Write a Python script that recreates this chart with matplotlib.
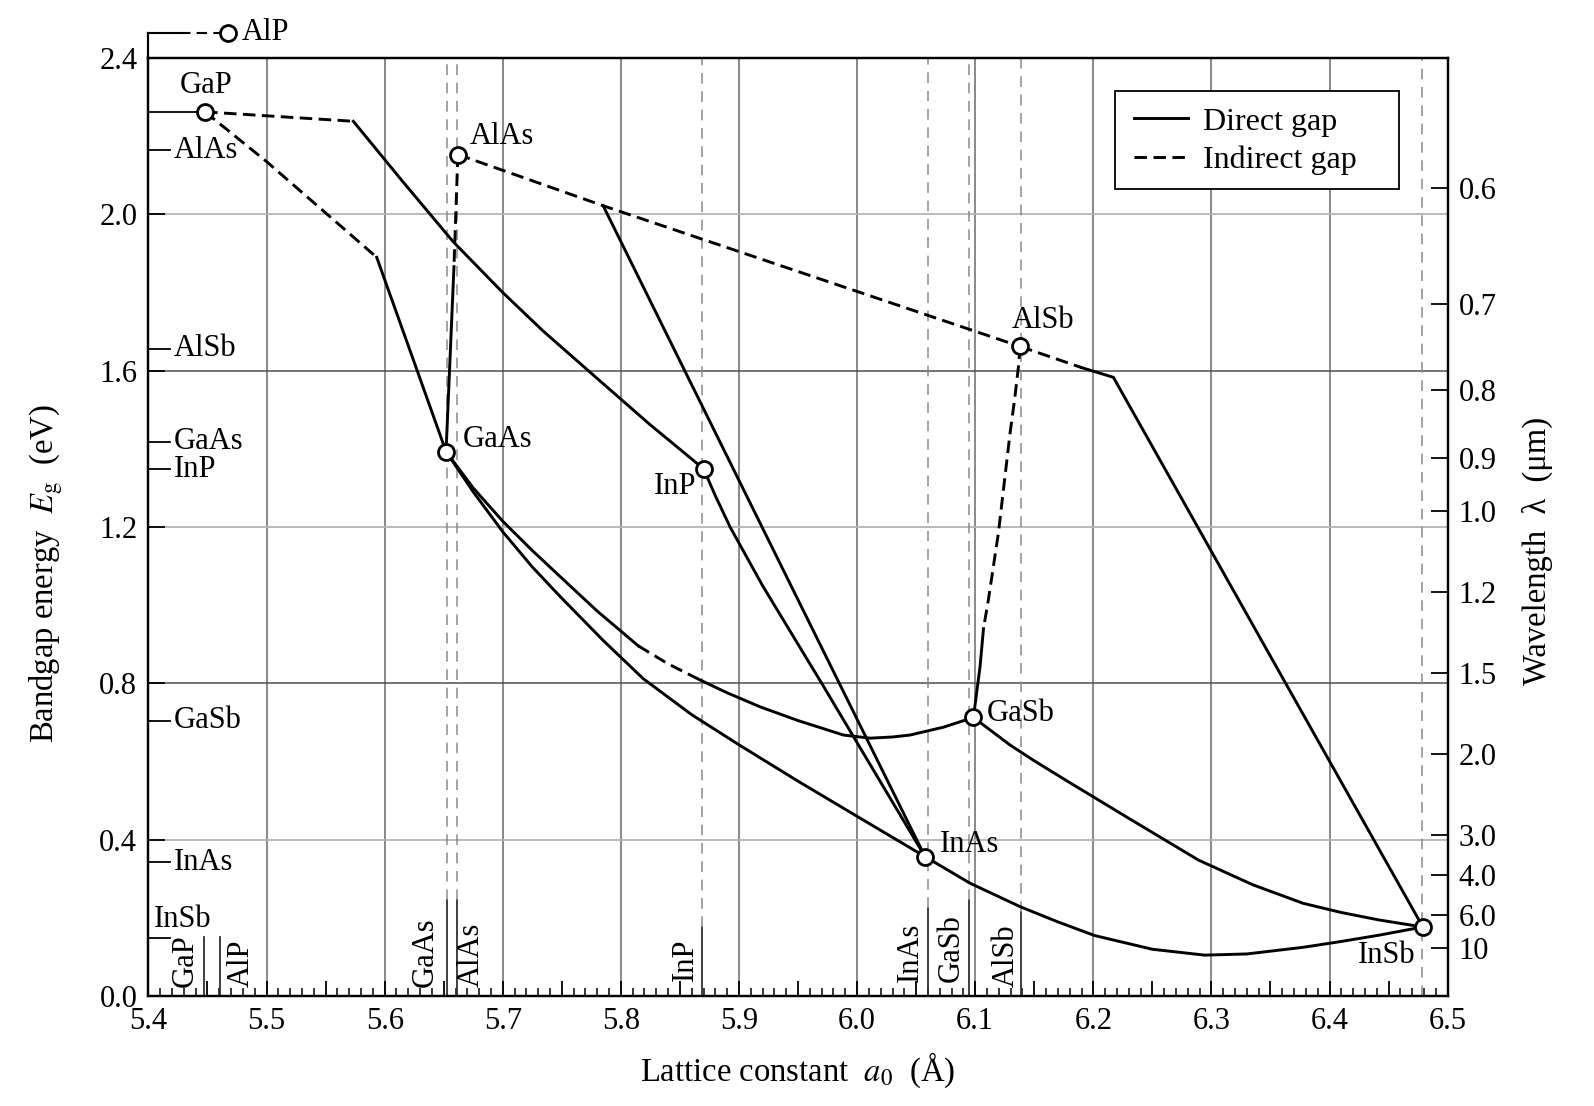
import matplotlib
matplotlib.use('Agg')
import matplotlib.pyplot as plt
from matplotlib.ticker import MultipleLocator, FuncFormatter
from matplotlib.lines import Line2D
from matplotlib.patches import Rectangle

plt.rcParams['font.family'] = ['Liberation Serif', 'DejaVu Serif']
plt.rcParams['mathtext.fontset'] = 'stix'
FS = 22
FS_LAB = 23.5

# ---------------- data ----------------
# binary compounds: lattice constant (Å), bandgap (eV)
comp_names = ['AlP', 'GaP', 'AlAs', 'GaAs', 'InP', 'AlSb', 'GaSb', 'InAs', 'InSb']
comp_a = [5.467, 5.448, 5.662, 5.652, 5.870, 6.138, 6.0985, 6.0575, 6.479]
comp_E = [2.465, 2.262, 2.153, 1.393, 1.349, 1.662, 0.713, 0.357, 0.177]

# reference lattice-constant lines at the bottom: name, a0, top of solid part
ref_names = ['GaP', 'AlP', 'GaAs', 'AlAs', 'InP', 'InAs', 'GaSb', 'AlSb', 'InSb']
ref_a = [5.447, 5.461, 5.653, 5.661, 5.869, 6.060, 6.095, 6.139, 6.478]
ref_solid_top = [0.152, 0.152, 0.245, 0.245, 0.178, 0.225, 0.246, 0.216, 0.0]
ref_dashed = [False, False, True, True, True, True, True, True, True]

# left-axis compound markers
left_names = ['AlAs', 'AlSb', 'GaAs', 'InP', 'GaSb', 'InAs', 'InSb']
left_E = [2.164, 1.656, 1.418, 1.348, 0.705, 0.342, 0.148]

# ternary curves (direct = solid, indirect = dashed)
gap_inp_ind_a = [5.448, 5.5735]
gap_inp_ind_E = [2.262, 2.238]
gap_inp_dir_a = [5.5735, 5.615, 5.658, 5.700, 5.734, 5.780, 5.8247, 5.850, 5.870]
gap_inp_dir_E = [2.238, 2.085, 1.930, 1.800, 1.702, 1.580, 1.462, 1.399, 1.349]

gap_gaas_ind_a = [5.448, 5.50, 5.5933]
gap_gaas_ind_E = [2.262, 2.135, 1.890]
gap_gaas_dir_a = [5.5933, 5.6244, 5.652]
gap_gaas_dir_E = [1.890, 1.627, 1.393]

alas_gaas_ind_a = [5.662, 5.6587]
alas_gaas_ind_E = [2.153, 1.866]
alas_gaas_dir_a = [5.6587, 5.652]
alas_gaas_dir_E = [1.866, 1.393]

alas_alsb_ind_a = [5.662, 5.785, 6.138]
alas_alsb_ind_E = [2.153, 2.022, 1.662]

alas_inas_dir_a = [5.785, 6.0575]
alas_inas_dir_E = [2.022, 0.357]

alsb_insb_ind_a = [6.138, 6.190]
alsb_insb_ind_E = [1.662, 1.608]
alsb_insb_dir_a = [6.190, 6.217, 6.479]
alsb_insb_dir_E = [1.608, 1.583, 0.177]

alsb_gasb_ind_a = [6.138, 6.1366, 6.1335, 6.1295, 6.1196, 6.1111, 6.107]
alsb_gasb_ind_E = [1.662, 1.610, 1.530, 1.440, 1.184, 1.013, 0.940]
alsb_gasb_dir_a = [6.107, 6.1041, 6.0985]
alsb_gasb_dir_E = [0.940, 0.843, 0.713]

gaas_gasb_dir1_a = [5.652, 5.675, 5.700, 5.725, 5.7487, 5.780, 5.8148]
gaas_gasb_dir1_E = [1.393, 1.300, 1.215, 1.140, 1.073, 0.985, 0.896]
gaas_gasb_ind_a = [5.8148, 5.840, 5.867]
gaas_gasb_ind_E = [0.896, 0.850, 0.809]
gaas_gasb_dir2_a = [5.867, 5.890, 5.918, 5.950, 5.9884, 6.011, 6.030, 6.0448, 6.073, 6.0985]
gaas_gasb_dir2_E = [0.809, 0.776, 0.740, 0.705, 0.668, 0.660, 0.663, 0.668, 0.688, 0.713]

gaas_inas_a = [5.652, 5.675, 5.700, 5.725, 5.7487, 5.785, 5.819, 5.860, 5.900,
               5.950, 6.000, 6.0575]
gaas_inas_E = [1.393, 1.290, 1.188, 1.098, 1.022, 0.910, 0.812, 0.720, 0.643,
               0.550, 0.460, 0.357]

inp_inas_a = [5.870, 5.8797, 5.8925, 5.920, 5.9714, 6.0575]
inp_inas_E = [1.349, 1.282, 1.200, 1.050, 0.7934, 0.357]

inas_insb_a = [6.0575, 6.0956, 6.138, 6.170, 6.2012, 6.250, 6.2942, 6.330, 6.3776,
               6.410, 6.4418, 6.479]
inas_insb_E = [0.357, 0.289, 0.229, 0.190, 0.155, 0.120, 0.105, 0.108, 0.125,
               0.140, 0.156, 0.177]

gasb_insb_a = [6.0985, 6.1295, 6.149, 6.178, 6.230, 6.2891, 6.335, 6.3776, 6.410,
               6.4418, 6.479]
gasb_insb_E = [0.713, 0.6425, 0.604, 0.550, 0.455, 0.348, 0.285, 0.2376, 0.214,
               0.195, 0.177]

# right axis wavelength ticks (µm)
wl_ticks = [0.6, 0.7, 0.8, 0.9, 1.0, 1.2, 1.5, 2.0, 3.0, 4.0, 6.0, 10]
wl_labels = ['0.6', '0.7', '0.8', '0.9', '1.0', '1.2', '1.5', '2.0', '3.0', '4.0', '6.0', '10']

grid_x = [5.5, 5.6, 5.7, 5.8, 5.9, 6.0, 6.1, 6.2, 6.3, 6.4]
grid_y_light = [0.4, 1.2, 2.0]
grid_y_dark = [0.8, 1.6]

# ---------------- figure ----------------
fig = plt.figure(figsize=(15.94, 11.06), dpi=100)
ax = fig.add_axes([0.0931, 0.0993, 0.8151, 0.8483])
ax.set_xlim(5.4, 6.5)
ax.set_ylim(0, 2.4)

for v in grid_x:
    ax.axvline(v, color='#6a6a6a', lw=1.1, zorder=1)
for v in grid_y_light:
    ax.axhline(v, color='#b4b4b4', lw=1.3, zorder=1)
for v in grid_y_dark:
    ax.axhline(v, color='#505050', lw=1.1, zorder=1)

for n, a, top, dsh in zip(ref_names, ref_a, ref_solid_top, ref_dashed):
    if top > 0:
        ax.plot([a, a], [0, top], color='#303030', lw=1.3, zorder=2)
    if dsh:
        ax.plot([a, a], [top, 2.4], color='#8a8a8a', lw=1.1, dashes=(7, 5), zorder=2)

LW = 2.1
DS = (4.3, 2.2)
def solid(xa, ya):
    ax.plot(xa, ya, color='black', lw=LW, zorder=3, solid_joinstyle='round')
def dashed(xa, ya):
    ax.plot(xa, ya, color='black', lw=LW, dashes=DS, zorder=3)

dashed(gap_inp_ind_a, gap_inp_ind_E); solid(gap_inp_dir_a, gap_inp_dir_E)
dashed(gap_gaas_ind_a, gap_gaas_ind_E); solid(gap_gaas_dir_a, gap_gaas_dir_E)
dashed(alas_gaas_ind_a, alas_gaas_ind_E); solid(alas_gaas_dir_a, alas_gaas_dir_E)
dashed(alas_alsb_ind_a, alas_alsb_ind_E)
solid(alas_inas_dir_a, alas_inas_dir_E)
dashed(alsb_insb_ind_a, alsb_insb_ind_E); solid(alsb_insb_dir_a, alsb_insb_dir_E)
dashed(alsb_gasb_ind_a, alsb_gasb_ind_E); solid(alsb_gasb_dir_a, alsb_gasb_dir_E)
solid(gaas_gasb_dir1_a, gaas_gasb_dir1_E); dashed(gaas_gasb_ind_a, gaas_gasb_ind_E)
solid(gaas_gasb_dir2_a, gaas_gasb_dir2_E)
solid(gaas_inas_a, gaas_inas_E)
solid(inp_inas_a, inp_inas_E)
solid(inas_insb_a, inas_insb_E)
solid(gasb_insb_a, gasb_insb_E)

# AlP (outside top) and GaP connection to the axis
iAlP = comp_names.index('AlP'); iGaP = comp_names.index('GaP')
ax.plot([5.4, 5.4], [2.4, comp_E[iAlP]], color='black', lw=1.6, clip_on=False, zorder=4)
ax.plot([5.4, 5.427], [comp_E[iAlP]] * 2, color='black', lw=1.5, clip_on=False, zorder=4)
ax.plot([5.427, comp_a[iAlP]], [comp_E[iAlP]] * 2, color='black', lw=1.5,
        dashes=(5, 3), clip_on=False, zorder=4)
ax.plot([5.4, comp_a[iGaP]], [comp_E[iGaP]] * 2, color='black', lw=1.3, zorder=4)

ax.plot(comp_a, comp_E, 'o', ms=11.5, mfc='white', mec='black', mew=2.0,
        zorder=6, clip_on=False)

# left compound ticks
for n, e in zip(left_names, left_E):
    ax.plot([5.4, 5.4185], [e, e], color='black', lw=1.3, zorder=4)
    if n == 'InSb':
        ax.text(5.4048, 0.196, n, fontsize=FS, ha='left', va='center')
    else:
        ax.text(5.4215, e, n, fontsize=FS, ha='left', va='center')

# marker labels
ax.text(5.4488, 2.330, 'GaP', fontsize=FS, ha='center', va='center')
ax.text(5.6722, 2.200, 'AlAs', fontsize=FS, ha='left', va='center')
ax.text(5.6660, 1.425, 'GaAs', fontsize=FS, ha='left', va='center')
ax.text(5.8640, 1.305, 'InP', fontsize=FS, ha='right', va='center')
ax.text(6.1310, 1.729, 'AlSb', fontsize=FS, ha='left', va='center')
ax.text(6.1098, 0.724, 'GaSb', fontsize=FS, ha='left', va='center')
ax.text(6.0702, 0.387, 'InAs', fontsize=FS, ha='left', va='center')
ax.text(6.4725, 0.104, 'InSb', fontsize=FS, ha='right', va='center')
ax.text(5.4793, 2.466, 'AlP', fontsize=FS, ha='left', va='center', clip_on=False)

# rotated labels at the bottom
rot_x = [5.431, 5.479, 5.634, 5.6737, 5.855, 6.0448, 6.0801, 6.1267]
rot_y = [0.024, 0.024, 0.024, 0.024, 0.040, 0.037, 0.037, 0.024]
rot_t = ['GaP', 'AlP', 'GaAs', 'AlAs', 'InP', 'InAs', 'GaSb', 'AlSb']
for x, y, t in zip(rot_x, rot_y, rot_t):
    ax.text(x, y, t, fontsize=FS, rotation=90, ha='center', va='bottom')

# axes styling
for s in ax.spines.values():
    s.set_linewidth(1.6)
ax.xaxis.set_major_locator(MultipleLocator(0.05))
ax.xaxis.set_minor_locator(MultipleLocator(0.01))
ax.xaxis.set_major_formatter(FuncFormatter(
    lambda v, p: ('%.1f' % v) if abs(round(v * 10) - v * 10) < 1e-6 else ''))
ax.yaxis.set_major_locator(MultipleLocator(0.4))
ax.yaxis.set_major_formatter(FuncFormatter(lambda v, p: '%.1f' % v))
ax.tick_params(axis='x', which='major', direction='in', length=11, width=1.3,
               labelsize=FS, pad=8)
ax.tick_params(axis='x', which='minor', direction='in', length=5.5, width=1.1)
ax.tick_params(axis='y', which='major', direction='in', length=12, width=1.3,
               labelsize=FS, pad=8)
ax.set_xlabel(r'Lattice constant  $a_0$  (Å)', fontsize=FS_LAB)
ax.xaxis.set_label_coords(0.5, -0.058)
ax.set_ylabel(r'Bandgap energy  $E_{\mathrm{g}}$  (eV)', fontsize=FS_LAB)
ax.yaxis.set_label_coords(-0.064, 0.45)

ax2 = ax.twinx()
ax2.set_ylim(0, 2.4)
ax2.set_yticks([1.24 / w for w in wl_ticks])
ax2.set_yticklabels(wl_labels, fontsize=FS)
ax2.tick_params(axis='y', direction='in', length=12, width=1.3, pad=8)
for s in ax2.spines.values():
    s.set_linewidth(1.6)
ax2.set_ylabel('Wavelength  λ  (μm)', fontsize=FS_LAB)
ax2.yaxis.set_label_coords(1.057, 0.475)

# legend: frame drawn as a box, entries placed inside it
frame = Rectangle((0.7441, 0.8603), 0.9624 - 0.7441, 0.9643 - 0.8603,
                  transform=ax.transAxes, facecolor='white', edgecolor='black',
                  lw=1.3, zorder=9)
ax.add_patch(frame)
handles = [Line2D([], [], color='black', lw=LW),
           Line2D([], [], color='black', lw=LW, dashes=DS)]
leg = ax.legend(handles, ['Direct gap', 'Indirect gap'], loc='upper left',
                bbox_to_anchor=(0.7582, 0.9475), borderaxespad=0, borderpad=0,
                fontsize=23, frameon=False, handlelength=1.72,
                labelspacing=0.28, handletextpad=0.47)
leg.set_zorder(10)

fig.savefig('out.png', dpi=100)
